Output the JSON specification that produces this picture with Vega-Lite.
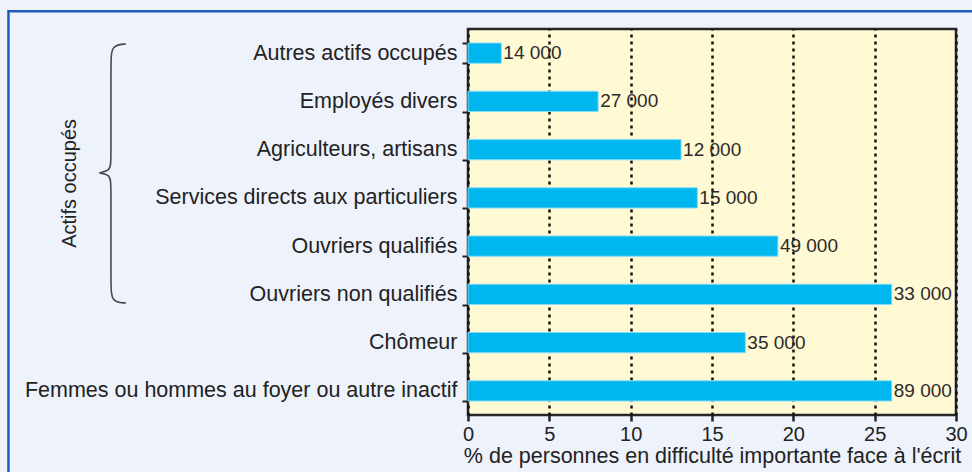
{
  "$schema": "https://vega.github.io/schema/vega-lite/v6.json",
  "width": 488,
  "height": 386,
  "autosize": {"type": "none"},
  "padding": {"left": 468, "top": 29, "right": 16, "bottom": 57},
  "background": "#EEF2FB",
  "config": {
    "view": {"fill": "#FFF9D4", "stroke": "#262626", "strokeWidth": 2.5},
    "font": "Liberation Sans"
  },
  "datasets": {
    "bars": [
      {"cat": "Autres actifs occupés", "pct": 2.05, "label": "14 000"},
      {"cat": "Employés divers", "pct": 8.0, "label": "27 000"},
      {"cat": "Agriculteurs, artisans", "pct": 13.1, "label": "12 000"},
      {"cat": "Services directs aux particuliers", "pct": 14.1, "label": "15 000"},
      {"cat": "Ouvriers qualifiés", "pct": 19.05, "label": "49 000"},
      {"cat": "Ouvriers non qualifiés", "pct": 26.05, "label": "33 000"},
      {"cat": "Chômeur", "pct": 17.05, "label": "35 000"},
      {"cat": "Femmes ou hommes au foyer ou autre inactif", "pct": 26.05, "label": "89 000"}
    ],
    "brace": [
      {"o": 1, "bx": -21.03, "by": 0.31},
      {"o": 2, "bx": -21.95, "by": 0.33},
      {"o": 3, "bx": -21.95, "by": 0.75},
      {"o": 4, "bx": -21.95, "by": 2.7},
      {"o": 5, "bx": -21.95, "by": 2.96},
      {"o": 6, "bx": -23.0, "by": 2.98},
      {"o": 7, "bx": -21.95, "by": 3.0},
      {"o": 8, "bx": -21.95, "by": 3.26},
      {"o": 9, "bx": -21.95, "by": 5.25},
      {"o": 10, "bx": -21.95, "by": 5.66},
      {"o": 11, "bx": -21.03, "by": 5.68}
    ],
    "group": [
      {"name": "Actifs occupés", "gx": -24.45, "gy": 3.2}
    ],
    "frame": [
      {"fx": -28.25, "fx2": 40, "fy": -0.37, "fy2": 20}
    ]
  },
  "layer": [
    {
      "data": {"name": "bars"},
      "layer": [
        {
          "mark": {"type": "bar", "color": "#00B6EF", "stroke": "#86DCF6", "strokeWidth": 1},
          "encoding": {
            "y": {
              "field": "cat", "type": "nominal", "sort": null,
              "scale": {"paddingInner": 0.58, "paddingOuter": 0.29},
              "axis": {
                "title": null, "domain": false, "tickBand": "extent",
                "tickSize": 6, "tickWidth": 2, "tickColor": "#222",
                "labelFontSize": 21.5, "labelColor": "#222", "labelPadding": 5, "labelLimit": 0
              }
            },
            "x": {
              "field": "pct", "type": "quantitative",
              "scale": {"domain": [0, 30], "nice": false},
              "axis": {
                "title": "% de personnes en difficulté importante face à l'écrit",
                "values": [0, 5, 10, 15, 20, 25, 30],
                "domain": false,
                "grid": true, "gridDash": [3, 4], "gridWidth": 2.5, "gridColor": "#111",
                "tickSize": 6, "tickWidth": 2.5, "tickColor": "#222",
                "labelFontSize": 20, "labelColor": "#222", "labelPadding": 3,
                "labelFlush": false,
                "titleFontSize": 21.5, "titleFontWeight": "normal", "titleColor": "#222",
                "titlePadding": 1
              }
            }
          }
        },
        {
          "mark": {"type": "text", "align": "left", "baseline": "middle", "dx": 2, "fontSize": 19, "color": "#2b2b2b"},
          "encoding": {
            "y": {"field": "cat", "type": "nominal", "sort": null},
            "x": {"field": "pct", "type": "quantitative", "scale": {"domain": [0, 30], "nice": false}},
            "text": {"field": "label"}
          }
        }
      ]
    },
    {
      "layer": [
        {
          "data": {"name": "frame"},
          "mark": {"type": "rect", "fill": null, "fillOpacity": 0, "stroke": "#1F5DBA", "strokeWidth": 2.5, "clip": false},
          "encoding": {
            "x": {"field": "fx", "type": "quantitative", "scale": {"domain": [0, 30], "nice": false}},
            "x2": {"field": "fx2"},
            "y": {"field": "fy", "type": "quantitative", "scale": {"domain": [0, 8], "reverse": true, "nice": false, "zero": false}, "axis": null},
            "y2": {"field": "fy2"}
          }
        },
        {
          "data": {"name": "brace"},
          "mark": {"type": "line", "interpolate": "basis", "color": "#4a4a4a", "strokeWidth": 1.6, "clip": false},
          "encoding": {
            "x": {"field": "bx", "type": "quantitative", "scale": {"domain": [0, 30], "nice": false}},
            "y": {"field": "by", "type": "quantitative", "axis": null},
            "order": {"field": "o"}
          }
        },
        {
          "data": {"name": "group"},
          "mark": {"type": "text", "angle": 270, "align": "center", "baseline": "middle", "fontSize": 20, "color": "#222", "clip": false},
          "encoding": {
            "x": {"field": "gx", "type": "quantitative", "scale": {"domain": [0, 30], "nice": false}},
            "y": {"field": "gy", "type": "quantitative", "axis": null},
            "text": {"field": "name"}
          }
        }
      ]
    }
  ],
  "resolve": {"scale": {"y": "independent"}, "axis": {"y": "independent"}}
}
